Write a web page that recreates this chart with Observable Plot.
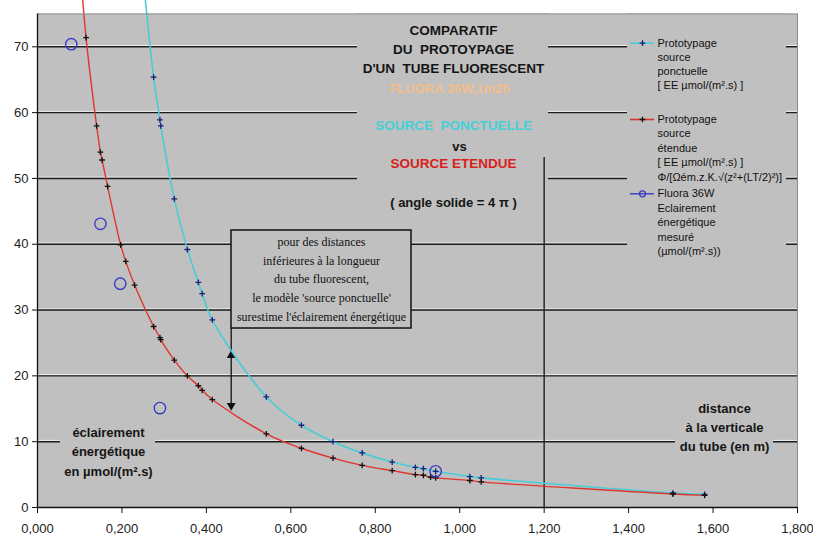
<!DOCTYPE html>
<html><head><meta charset="utf-8">
<script src="https://cdn.jsdelivr.net/npm/d3@7"></script>
<script src="https://cdn.jsdelivr.net/npm/@observablehq/plot@0.6"></script>
<style>html,body{margin:0;padding:0;background:#fff;} svg{display:block}</style>
</head><body><div id="chart"></div>
<script>
// ---- Data ----
// Prototypage source étendue (red line, black "+")
const distEtendue = [0.100,0.115,0.140,0.149,0.153,0.166,0.197,0.209,0.230,0.275,0.290,0.292,0.324,0.355,0.381,0.390,0.414,0.542,0.625,0.700,0.769,0.840,0.895,0.914,0.931,0.943,1.024,1.051,1.505,1.580];
const eeEtendue   = [83.0,71.4,58.0,54.0,52.8,48.8,39.9,37.4,33.8,27.5,25.8,25.5,22.4,20.0,18.5,17.8,16.4,11.2,9.0,7.5,6.4,5.6,5.0,4.9,4.6,4.5,4.1,3.9,2.05,1.85];
// Prototypage source ponctuelle (cyan line, navy "+")
const distPonct = [0.230,0.275,0.290,0.292,0.324,0.355,0.381,0.390,0.414,0.542,0.625,0.700,0.769,0.840,0.895,0.914,0.943,1.024,1.051,1.505,1.580];
const eePonct   = [94.0,65.4,58.9,58.0,46.9,39.2,34.2,32.5,28.5,16.8,12.5,10.0,8.3,6.9,6.1,5.9,5.5,4.7,4.5,2.2,2.0];
// Fluora 36W éclairement énergétique mesuré (blue circles)
const distMesure = [0.080,0.149,0.196,0.290,0.943];
const eeMesure   = [70.4,43.1,34.0,15.1,5.5];
// Axes
const yTicks = [0,10,20,30,40,50,60,70];
const yTickLabels = ["0","10","20","30","40","50","60","70"];
const xTicks = [0,0.2,0.4,0.6,0.8,1.0,1.2,1.4,1.6,1.8];
const xTickLabels = ["0,000","0,200","0,400","0,600","0,800","1,000","1,200","1,400","1,600","1,800"];

// ---- Layout helpers (pixel -> data units for annotations) ----
const X = p => (p - 37) * 1.8 / 760;
const Y = p => (507 - p) * 75 / 493.6;
const sans = "'Liberation Sans', Arial, sans-serif";
const serif = "'Liberation Serif', 'Times New Roman', serif";
const GRAY = "#c0c0c0", RED = "#e0352e", CYAN = "#48cdd6", BLUE = "#3b3bc4";

const etendue = distEtendue.map((d, i) => ({x: d, y: eeEtendue[i]}));
const ponct = distPonct.map((d, i) => ({x: d, y: eePonct[i]}));
const mesure = distMesure.map((d, i) => ({x: d, y: eeMesure[i]}));

const boxes = [
  {x1: X(357), x2: X(548), y1: Y(217), y2: 75},   // title block
  {x1: X(627), x2: X(786), y1: Y(262), y2: 75},   // legend
  {x1: X(231), x2: X(411), y1: Y(328), y2: Y(230)}, // comment box
  {x1: X(60),  x2: X(155), y1: Y(482), y2: Y(418)}, // y label
  {x1: X(675), x2: X(773), y1: Y(456), y2: Y(398)}  // x label
];

const txt = (lines, px, py, step, opts) =>
  Plot.text(lines, {x: () => X(px), y: (d, i) => Y(py + i * step), text: d => d, lineAnchor: "middle", ...opts});

const chart = Plot.plot({
  width: 813, height: 535,
  marginLeft: 37, marginRight: 16, marginTop: 13.4, marginBottom: 28,
  x: {domain: [0, 1.8]},
  y: {domain: [0, 75]},
  style: {fontFamily: sans, background: "white"},
  marks: [
    Plot.frame({fill: GRAY}),
    Plot.ruleY(yTicks.slice(1), {stroke: "#ececec", strokeWidth: 1, dy: -1.3}),
    Plot.ruleY(yTicks.slice(1), {stroke: "#1c1c1c", strokeWidth: 1.4}),
    Plot.rect(boxes, {x1: "x1", x2: "x2", y1: "y1", y2: "y2", fill: GRAY}),
    Plot.rect([boxes[2]], {x1: "x1", x2: "x2", y1: "y1", y2: "y2", fill: "none", stroke: "#111", strokeWidth: 1.5}),
    // vertical marker at tube length 1,2 m
    Plot.ruleX([1.2], {y1: Y(157), y2: 0, stroke: "#2a2a2a", strokeWidth: 1.5}),
    // double arrow
    Plot.ruleX([X(230.7)], {y1: Y(328), y2: Y(409), stroke: "#111", strokeWidth: 1.3}),
    Plot.dot([0], {x: () => X(230.7), y: () => Y(355), symbol: "triangle", r: 3.3, fill: "#111"}),
    Plot.dot([0], {x: () => X(230.7), y: () => Y(405), symbol: "triangle", r: 3.3, fill: "#111", rotate: 180}),
    // series
    Plot.line(ponct, {x: "x", y: "y", stroke: CYAN, strokeWidth: 1.6, curve: "catmull-rom"}),
    Plot.line(etendue, {x: "x", y: "y", stroke: RED, strokeWidth: 1.4, curve: "catmull-rom"}),
    Plot.dot(ponct, {x: "x", y: "y", symbol: "plus", r: 2, stroke: "#1b1b7a", strokeWidth: 1.3}),
    Plot.dot(etendue, {x: "x", y: "y", symbol: "plus", r: 2, stroke: "#111", strokeWidth: 1.3}),
    Plot.dot(mesure, {x: "x", y: "y", r: 5.7, stroke: BLUE, strokeWidth: 1.4, fill: "none"}),
    // title block
    txt(["COMPARATIF", "DU\u00a0 PROTOYPAGE", "D'UN\u00a0 TUBE FLUORESCENT"], 453, 30.5, 19, {fontWeight: "bold", fontSize: 13.5, fill: "#151515"}),
    txt(["FLUORA 36W,1m20"], 449, 88, 0, {fontWeight: "bold", fontSize: 13, fill: "#f4bd8c"}),
    txt(["SOURCE\u00a0 PONCTUELLE"], 453, 125.5, 0, {fontWeight: "bold", fontSize: 13.5, fill: "#46cfd8"}),
    txt(["vs"], 459, 146, 0, {fontWeight: "bold", fontSize: 13, fill: "#151515"}),
    txt(["SOURCE ETENDUE"], 453, 163.5, 0, {fontWeight: "bold", fontSize: 13.5, fill: "#d9201c"}),
    txt(["( angle solide = 4 \u03c0 )"], 453, 202, 0, {fontWeight: "bold", fontSize: 13, fill: "#151515"}),
    // legend
    Plot.ruleY([Y(42.7)], {x1: X(630), x2: X(654), stroke: CYAN, strokeWidth: 1.6}),
    Plot.dot([0], {x: () => X(642), y: () => Y(42.7), symbol: "plus", r: 2, stroke: "#1b1b7a", strokeWidth: 1.3}),
    Plot.ruleY([Y(119)], {x1: X(630), x2: X(654), stroke: RED, strokeWidth: 1.6}),
    Plot.dot([0], {x: () => X(642), y: () => Y(119), symbol: "plus", r: 2, stroke: "#111", strokeWidth: 1.3}),
    Plot.ruleY([Y(193.3)], {x1: X(630), x2: X(654), stroke: BLUE, strokeWidth: 1.4}),
    Plot.dot([0], {x: () => X(642), y: () => Y(193.3), r: 3, stroke: BLUE, strokeWidth: 1.3, fill: "none"}),
    txt(["Prototypage", "source", "ponctuelle", "[ EE \u00b5mol/(m\u00b2.s) ]"], 657, 42.7, 14.2, {textAnchor: "start", fontSize: 11, fill: "#111"}),
    txt(["Prototypage", "source", "\u00e9tendue", "[ EE \u00b5mol/(m\u00b2.s) ]", "\u03a6/[\u03a9\u00e9m.z.K.\u221a(z\u00b2+(LT/2)\u00b2)]"], 657, 119, 14.4, {textAnchor: "start", fontSize: 11, fill: "#111"}),
    txt(["Fluora 36W", "Eclairement", "\u00e9nerg\u00e9tique", "mesur\u00e9", "(\u00b5mol/(m\u00b2.s))"], 657, 193.3, 14.4, {textAnchor: "start", fontSize: 11, fill: "#111"}),
    // comment box
    txt(["pour des distances", "inf\u00e9rieures \u00e0 la longueur", "du tube fluorescent,", "le mod\u00e8le 'source ponctuelle'", "surestime l'\u00e9clairement \u00e9nerg\u00e9tique"], 321, 241.5, 18.8, {fontFamily: serif, fontSize: 12, fill: "#111"}),
    // axis titles
    txt(["\u00e9clairement", "\u00e9nerg\u00e9tique", "en \u00b5mol/(m\u00b2.s)"], 108, 432, 19.8, {fontWeight: "bold", fontSize: 13, fill: "#151515"}),
    txt(["distance", "\u00e0 la verticale", "du tube (en m)"], 724, 408, 19, {fontWeight: "bold", fontSize: 13, fill: "#151515"}),
    // frame + axes
    Plot.frame({stroke: "#8a8a8a", strokeWidth: 1}),
    Plot.ruleX([0], {stroke: "#111", strokeWidth: 1.3}),
    Plot.ruleY([0], {stroke: "#111", strokeWidth: 1.3}),
    Plot.axisY(yTicks, {tickSize: 5, tickPadding: 4, fontSize: 13, fill: "#222", stroke: "#111", label: null,
      tickFormat: d => yTickLabels[yTicks.indexOf(d)]}),
    Plot.axisX(xTicks, {tickSize: 6, tickPadding: 10, fontSize: 13, fill: "#222", stroke: "#111", label: null,
      tickFormat: d => xTickLabels[xTicks.indexOf(d)]})
  ]
});
document.getElementById("chart").appendChild(chart);
</script>
</body></html>
